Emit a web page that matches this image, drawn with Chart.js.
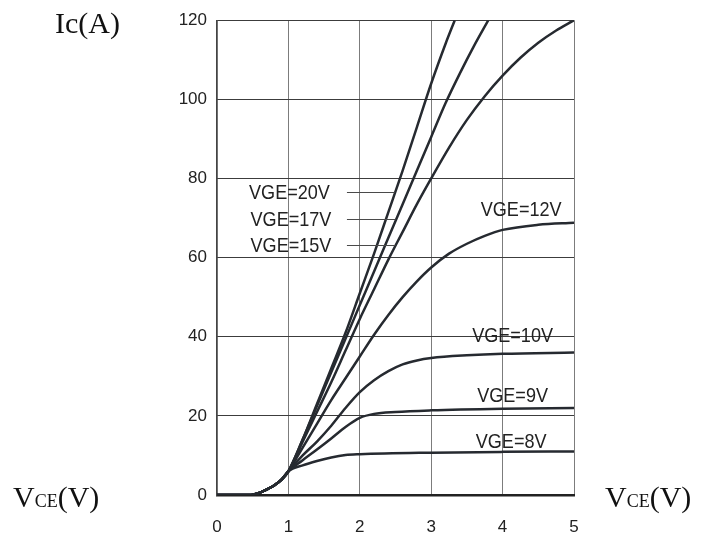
<!DOCTYPE html>
<html>
<head>
<meta charset="utf-8">
<script src="https://cdn.jsdelivr.net/npm/chart.js@4"></script>
<style>
  html, body { margin: 0; padding: 0; background: #fff; }
  #wrap { width: 711px; height: 537px; }
</style>
</head>
<body>
<div id="wrap"><canvas id="chart" width="711" height="537"></canvas></div>
<script>
// common turn-on foot shared by every curve (VCE in V, Ic in A)
const footVce = [0, 0.45, 0.6, 0.7, 0.8, 0.9];
const footIc  = [0, 0,    0.6, 1.4, 2.4, 3.8];

// output characteristics, one pair of arrays per gate voltage
const vce20 = [1.0, 1.2, 1.4, 1.6, 1.8, 2.0, 2.2, 2.4, 2.6, 2.8, 3.0, 3.2, 3.33];
const ic20  = [6, 14, 23, 32, 41, 51, 61, 71.5, 82, 93, 104, 114, 120];

const vce17 = [1.0, 1.2, 1.4, 1.6, 1.8, 2.0, 2.2, 2.4, 2.6, 2.8, 3.0, 3.2, 3.4, 3.6, 3.8];
const ic17  = [6, 14, 22.5, 31, 39.5, 48, 56.5, 65, 73.5, 82, 90.5, 99, 106.5, 113.5, 120];

const vce15 = [1.0, 1.2, 1.4, 1.6, 1.8, 2.0, 2.2, 2.4, 2.6, 2.8, 3.0, 3.25, 3.5, 3.75, 4.0, 4.25, 4.5, 4.75, 5.0];
const ic15  = [6, 13.5, 21, 28.5, 36.5, 44.5, 52, 59.5, 66.5, 73.5, 80, 87.8, 94.8, 100.8, 106, 110.5, 114.3, 117.4, 120];

const vce12 = [1.0, 1.2, 1.4, 1.6, 1.8, 2.0, 2.2, 2.4, 2.6, 2.8, 3.0, 3.25, 3.5, 3.75, 4.0, 4.5, 5.0];
const ic12  = [6, 12, 18, 24, 29.5, 35, 40.5, 45.5, 50, 54, 57.5, 61, 63.5, 65.5, 67, 68.3, 68.8];

const vce10 = [1.0, 1.2, 1.4, 1.6, 1.8, 2.0, 2.2, 2.4, 2.6, 2.8, 3.0, 3.5, 4.0, 5.0];
const ic10  = [6, 10, 13.5, 17.5, 22, 26, 29, 31.3, 33, 34, 34.6, 35.3, 35.7, 36];

const vce9 = [1.0, 1.2, 1.4, 1.6, 1.8, 2.0, 2.2, 2.5, 3.0, 4.0, 5.0];
const ic9  = [6, 8.8, 11.5, 14.3, 17.2, 19.5, 20.5, 21, 21.4, 21.8, 22];

const vce8 = [1.0, 1.2, 1.4, 1.6, 1.8, 2.0, 3.0, 4.0, 5.0];
const ic8  = [6, 7.5, 8.6, 9.5, 10.1, 10.3, 10.7, 10.9, 11];

const xTicks = [0, 1, 2, 3, 4, 5];
const yTicks = [0, 20, 40, 60, 80, 100, 120];

const seriesNames = ['VGE=20V', 'VGE=17V', 'VGE=15V', 'VGE=12V', 'VGE=10V', 'VGE=9V', 'VGE=8V'];
const seriesVce = [vce20, vce17, vce15, vce12, vce10, vce9, vce8];
const seriesIc  = [ic20, ic17, ic15, ic12, ic10, ic9, ic8];

// where each curve name sits (data units); leader lines only on the left group
const labelSpots = [
  { x: 1.015, y: 76.6, lead: [1.82, 2.49] },
  { x: 1.036, y: 69.8, lead: [1.82, 2.50] },
  { x: 1.036, y: 63.1, lead: [1.82, 2.50] },
  { x: 4.26, y: 72.3 },
  { x: 4.14, y: 40.4 },
  { x: 4.14, y: 25.1 },
  { x: 4.12, y: 13.6 }
];

function toPoints(xs, ys) {
  const allX = footVce.concat(xs);
  const allY = footIc.concat(ys);
  return allX.map((v, i) => ({ x: v, y: allY[i] }));
}

const curveColor = '#262a30';

const datasets = seriesNames.map((name, i) => ({
  label: name,
  data: toPoints(seriesVce[i], seriesIc[i]),
  borderColor: curveColor,
  borderWidth: 2.5,
  pointRadius: 0,
  fill: false,
  cubicInterpolationMode: 'monotone'
}));

// curve names, leader lines and axis captions
const textPlugin = {
  id: 'curveText',
  afterDatasetsDraw(chart) {
    const ctx = chart.ctx;
    const xs = chart.scales.x, ys = chart.scales.y;
    ctx.save();

    ctx.strokeStyle = '#4a4a4a';
    ctx.lineWidth = 1;
    labelSpots.forEach(s => {
      if (!s.lead) return;
      const py = Math.round(ys.getPixelForValue(s.y)) + 0.5;
      ctx.beginPath();
      ctx.moveTo(xs.getPixelForValue(s.lead[0]), py);
      ctx.lineTo(xs.getPixelForValue(s.lead[1]), py);
      ctx.stroke();
    });

    ctx.fillStyle = '#222';
    ctx.font = '21px "Liberation Sans", Arial, sans-serif';
    ctx.textAlign = 'center';
    ctx.textBaseline = 'middle';
    labelSpots.forEach((s, i) => {
      const px = xs.getPixelForValue(s.x);
      const py = ys.getPixelForValue(s.y);
      ctx.save();
      ctx.translate(px, py);
      ctx.scale(0.86, 1);
      ctx.fillText(seriesNames[i], 0, 1);
      ctx.restore();
    });

    // axis captions in serif
    ctx.textAlign = 'left';
    ctx.textBaseline = 'alphabetic';
    ctx.fillStyle = '#111';
    ctx.font = '30px "Liberation Serif", "Times New Roman", serif';
    ctx.fillText('Ic(A)', 55, 33);

    const drawVce = (x0, base) => {
      ctx.font = '30px "Liberation Serif", "Times New Roman", serif';
      ctx.fillText('V', x0, base);
      let x = x0 + ctx.measureText('V').width;
      ctx.font = '18px "Liberation Serif", "Times New Roman", serif';
      ctx.fillText('CE', x, base);
      x += ctx.measureText('CE').width;
      ctx.font = '30px "Liberation Serif", "Times New Roman", serif';
      ctx.fillText('(V)', x, base);
    };
    drawVce(13, 507);
    drawVce(605, 507);

    ctx.restore();
  }
};

new Chart(document.getElementById('chart'), {
  type: 'line',
  data: { datasets: datasets },
  plugins: [textPlugin],
  options: {
    responsive: false,
    animation: false,
    devicePixelRatio: 1,
    layout: { padding: { top: 17, right: 137, left: 0, bottom: 0 } },
    plugins: {
      legend: { display: false },
      tooltip: { enabled: false }
    },
    scales: {
      x: {
        type: 'linear',
        min: 0,
        max: 5,
        afterBuildTicks: s => { s.ticks = xTicks.map(v => ({ value: v })); },
        afterFit: s => { s.height = 42; },
        ticks: {
          color: '#222',
          padding: 22,
          font: { family: '"Liberation Sans", Arial, sans-serif', size: 17 }
        },
        grid: { color: '#7c7c7c', lineWidth: 1, drawTicks: false },
        border: { color: '#222', width: 2.5 }
      },
      y: {
        min: 0,
        max: 120,
        afterBuildTicks: s => { s.ticks = yTicks.map(v => ({ value: v })); },
        afterFit: s => { s.width = 217; },
        ticks: {
          color: '#222',
          padding: 10,
          font: { family: '"Liberation Sans", Arial, sans-serif', size: 17 }
        },
        grid: { color: '#3c3c3c', lineWidth: 1, drawTicks: false },
        border: { color: '#444', width: 1.2 }
      }
    }
  }
});
</script>
</body>
</html>
